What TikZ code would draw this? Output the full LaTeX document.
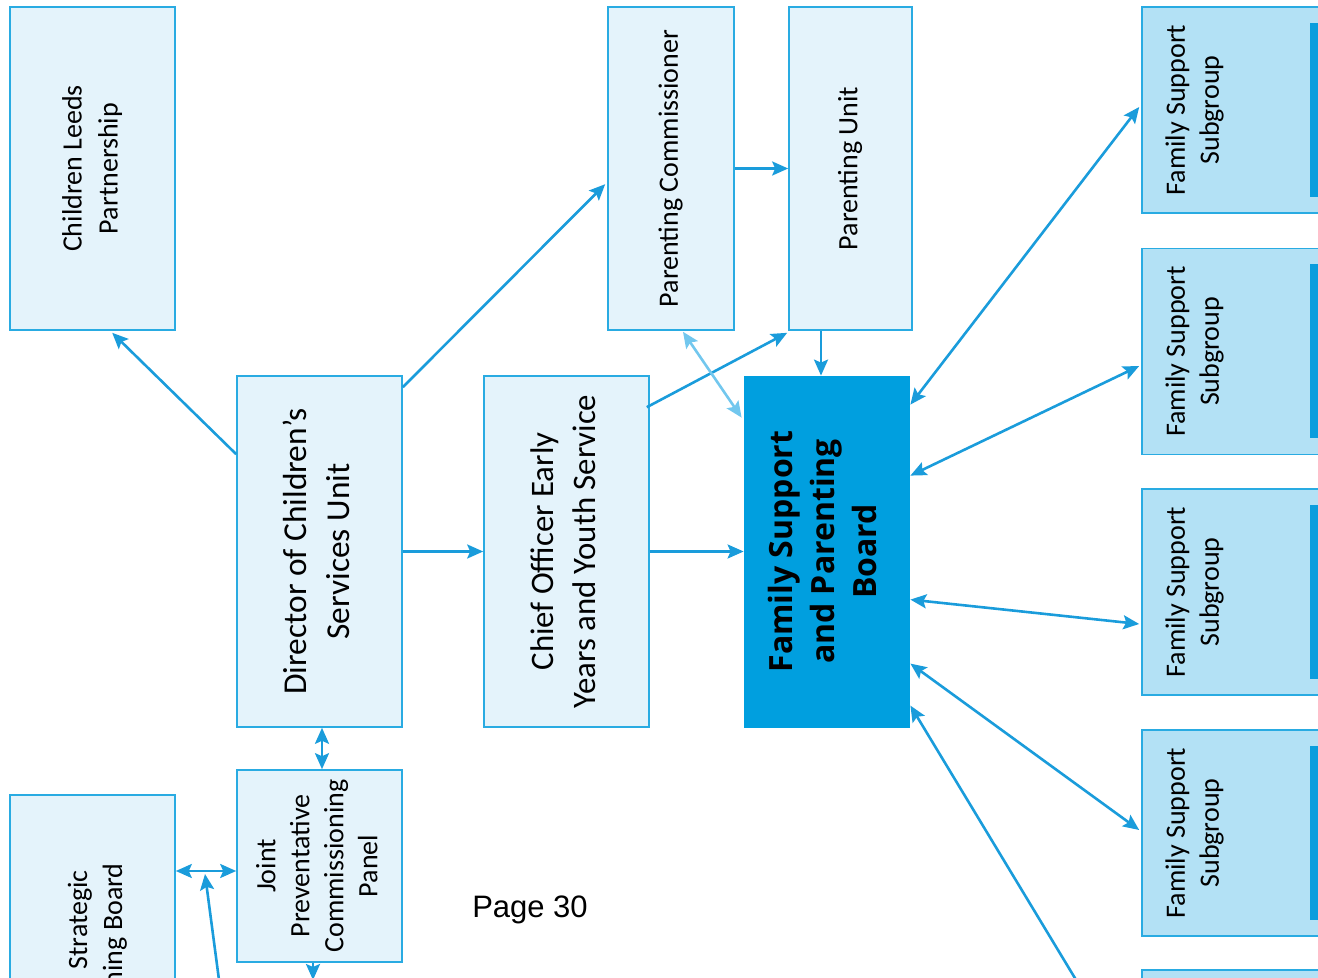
\documentclass[tikz,border=0pt]{standalone}
\usepackage{fontspec}
\setmainfont{Carlito}
\newfontfamily\pagefont{Liberation Sans}
\newfontfamily\boardfont{Open Sans}
\usetikzlibrary{arrows.meta,calc}
\definecolor{boxfill}{HTML}{E4F3FB}
\definecolor{boxline}{HTML}{29ABE2}
\definecolor{sgfill}{HTML}{B3E1F5}
\definecolor{barblue}{HTML}{0A9DDD}
\definecolor{boardblue}{HTML}{009FDF}
\definecolor{arrowblue}{HTML}{1A9CDB}
\definecolor{lightarrow}{HTML}{72C7EE}
\newcommand{\rtext}[2]{\rotatebox{90}{#1\begin{tabular}{@{}c@{}}#2\end{tabular}}}
\newcommand{\fsSmall}{\fontsize{14}{17}\selectfont}
\newcommand{\fsBig}{\fontsize{16.7}{21.5}\selectfont}
\begin{document}
\begin{tikzpicture}[x=0.5pt,y=-0.5pt,
  box/.style={draw=boxline, fill=boxfill, line width=0.8pt, inner sep=0pt, rectangle},
  sgbox/.style={draw=boxline, fill=sgfill, line width=0.8pt, inner sep=0pt, rectangle, minimum width=99pt, minimum height=103pt},
  sgbar/.style={fill=barblue, inner sep=0pt, rectangle, minimum width=15pt, minimum height=87pt},
  sgtext/.style={inner sep=0pt},
  conn/.style={draw=arrowblue, line width=1.3pt},
  fwd/.style={conn, -{Stealth[length=8pt,width=7pt,inset=1.5pt]}},
  both/.style={conn, {Stealth[length=8pt,width=7pt,inset=1.5pt]}-{Stealth[length=8pt,width=7pt,inset=1.5pt]}},
  parttext/.style={rotate=90, anchor=base east, inner sep=0pt, font=\fsSmall}
]
\useasboundingbox (0,0) rectangle (1318,978);
\clip (0,0) rectangle (1318,978);

% boxes
\node[box, minimum width=82.5pt, minimum height=161.5pt] (clp) at (92.5,168.5)
  {\rtext{\fontsize{14}{18}\selectfont}{Children Leeds\\Partnership}};
\node[box, minimum width=82.5pt, minimum height=175.5pt] (dir) at (319.5,551.5)
  {\rtext{\fsBig}{Director of Children’s\\Services Unit}};
\node[box, minimum width=82.5pt, minimum height=175.5pt] (coe) at (566.5,551.5)
  {\rtext{\fontsize{16.4}{21}\selectfont}{Chief Officer Early\\Years and Youth Service}};
\node[box, minimum width=63pt, minimum height=161.5pt] (pc) at (671,168.5)
  {\rtext{\fsSmall}{Parenting Commissioner}};
\node[box, minimum width=61.5pt, minimum height=161.5pt] (pu) at (850.5,168.5)
  {\rtext{\fsSmall}{Parenting Unit}};
\node[rectangle, draw=boardblue, fill=boardblue, inner sep=0pt, minimum width=82.5pt, minimum height=175.5pt] (fspb) at (826.5,551.5)
  {\rtext{\boardfont\bfseries\fontsize{16}{21}\selectfont}{Family Support\\and Parenting\\Board}};
\node[box, minimum width=82.5pt, minimum height=96pt] (jpcp) at (319.5,866)
  {\rtext{\fsSmall}{Joint\\Preventative\\Commissioning\\Panel}};
\node[box, minimum width=82.5pt, minimum height=152.5pt] (scb) at (92.5,947.5) {};
\node[parttext] (scba) at (87,870) {Strategic};
\node[parttext] (scbb) at (122,863) {ning Board};

% subgroups
\foreach \i/\cy in {1/110,2/351.5,3/592,4/833}{
  \node[sgbox] (sg\i) at (1241,\cy) {};
  \node[sgbar] (sgbar\i) at (1325,\cy) {};
  \node[sgtext] (sgt\i) at (1195,\cy) {\rtext{\fsSmall}{Family Support\\Subgroup}};
}
\node[sgbox] (sg5) at (1241,1073) {};

\node[font=\pagefont\fontsize{15.5}{18}\selectfont, inner sep=0pt] (page) at (530,910) {Page 30};

% connectors
\draw[fwd] ($(dir.north west)+(0,79)$) -- ($(clp.south west)+(103,2)$);
\draw[fwd] ($(dir.north east)+(0,12)$) -- ($(pc.north west)+(-2,178)$);
\draw[fwd] (dir.east) -- (coe.west);
\draw[fwd] (coe.east) -- (fspb.west);
\draw[fwd] ($(coe.north east)+(-3,32)$) -- ($(pu.south west)+(-1,2)$);
\draw[both, draw=lightarrow] ($(pc.south)+(12,1)$) -- ($(fspb.north west)+(-2,42)$);
\draw[fwd] (pc.east) -- (pu.west);
\draw[fwd] ($(pu.south)+(-29.5,0)$) -- ($(fspb.north)+(-5.5,0)$);
\draw[both] ($(fspb.north east)+(1,29)$) -- ($(sg1.west)+(-2,-3)$);
\draw[both] ($(fspb.north east)+(1,100)$) -- ($(sg2.west)+(-2,14.5)$);
\draw[both] ($(fspb.north east)+(1,224)$) -- ($(sg3.west)+(-2,32)$);
\draw[both] ($(fspb.north east)+(1,288)$) -- ($(sg4.west)+(-2,-3)$);
\coordinate (offb) at (1093,1008);
\draw[fwd] (offb) -- ($(fspb.north east)+(1,330)$);
\draw[both] ($(dir.south)+(2.5,0)$) -- ($(jpcp.north)+(2.5,0)$);
\draw[both] ($(jpcp.west)+(0,5)$) -- ($(scb.east)+(0,-76.5)$);
\coordinate (junc) at (205,874);
\coordinate (offl) at (221,995);
\draw[fwd] (offl) -- (junc);
\coordinate (offj) at (313,980);
\draw[fwd] ($(jpcp.south)+(-6.5,0)$) -- (offj);
\end{tikzpicture}
\end{document}
